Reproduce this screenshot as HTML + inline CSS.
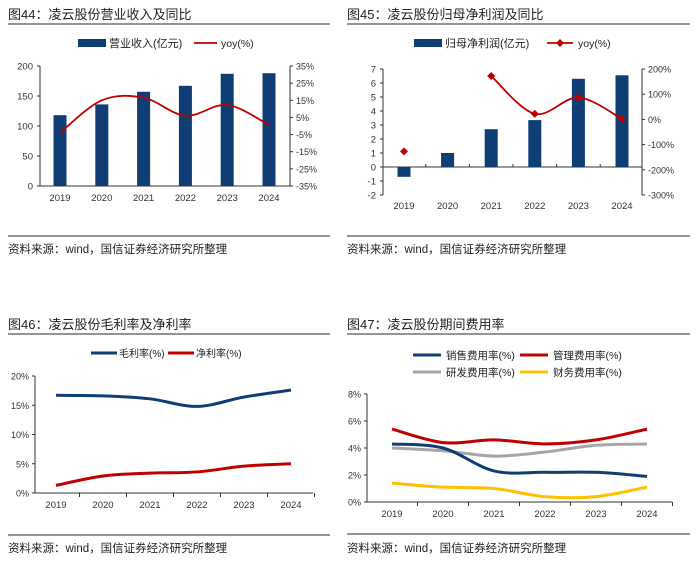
<!DOCTYPE html>
<html><head><meta charset="utf-8">
<style>
body{margin:0;background:#fff;width:700px;height:556px;overflow:hidden;font-family:"Liberation Sans","Noto Sans CJK SC",sans-serif;}
svg text{font-family:"Liberation Sans","Noto Sans CJK SC",sans-serif;}
</style></head>
<body>
<svg id="s" width="700" height="556" xmlns="http://www.w3.org/2000/svg"></svg>
<script>
const years=["2019","2020","2021","2022","2023","2024"];
const revenue=[118,136,157,167,187,188];
const revenueYoy=[-4,15,16.5,6,12.3,0.6];
const profit=[-0.7,1.0,2.7,3.35,6.3,6.55];
const profitYoy=[-127,null,172,22,87,2];
const grossMargin=[16.7,16.6,16.1,14.8,16.4,17.6];
const netMargin=[1.3,2.9,3.4,3.6,4.6,5.0];
const salesRate=[4.3,4.0,2.3,2.2,2.2,1.9];
const mgmtRate=[5.4,4.4,4.6,4.3,4.6,5.4];
const rdRate=[4.0,3.8,3.4,3.7,4.2,4.3];
const finRate=[1.4,1.1,1.0,0.4,0.4,1.1];
const ticks1L=[0,50,100,150,200];
const ticks1R=[-35,-25,-15,-5,5,15,25,35];
const ticks2L=[-2,-1,0,1,2,3,4,5,6,7];
const ticks2R=[-300,-200,-100,0,100,200];
const ticks3=[0,5,10,15,20];
const ticks4=[0,2,4,6,8];

const S=document.getElementById('s');
const NS="http://www.w3.org/2000/svg";
function el(tag,attrs,parent){const e=document.createElementNS(NS,tag);for(const k in attrs)e.setAttribute(k,attrs[k]);(parent||S).appendChild(e);return e;}
function txt(x,y,t,size,anchor,fill,parent){const e=el('text',{x:x,y:y,'font-size':size,'text-anchor':anchor||'start',fill:fill||'#222'},parent);e.textContent=t;return e;}
function smooth(pts){let d="M"+pts[0][0]+","+pts[0][1];for(let i=0;i<pts.length-1;i++){const p0=pts[i-1]||pts[i],p1=pts[i],p2=pts[i+1],p3=pts[i+2]||p2;const c1=[p1[0]+(p2[0]-p0[0])/6,p1[1]+(p2[1]-p0[1])/6],c2=[p2[0]-(p3[0]-p1[0])/6,p2[1]-(p3[1]-p1[1])/6];d+=" C"+c1+" "+c2+" "+p2;}return d;}
function lin(d0,d1,r0,r1){return v=>r0+(v-d0)/(d1-d0)*(r1-r0);}
function frame(g,x0,x1,yTitle,title,yRule,yRule2,ySrc){
  const t=txt(x0,yTitle,title,13,'start','#222',g);
  el('line',{x1:x0,x2:x1,y1:yRule,y2:yRule,stroke:'#555','stroke-width':1.2},g);
  el('line',{x1:x0,x2:x1,y1:yRule2,y2:yRule2,stroke:'#555','stroke-width':1.2},g);
  const s=txt(x0,ySrc,'资料来源：wind，国信证券经济研究所整理',11.5,'start','#222',g);
}
function xCats(g,xs,y,ticks,yt){years.forEach((yr,i)=>{const t=txt(xs(i),y,yr,9.5,'middle','#333',g);});}

// ---------- Panel 1 ----------
const g1=el('g',{});
frame(g1,8,330,19,'图44：凌云股份营业收入及同比',24,236,253);
{
 const xs=i=>60+i*41.8, yL=lin(0,200,186,66), yR=lin(-35,35,186,66);
 el('line',{x1:40,x2:40,y1:66,y2:186,stroke:'#333'},g1);
 el('line',{x1:40,x2:290,y1:186,y2:186,stroke:'#333'},g1);
 el('line',{x1:290,x2:290,y1:66,y2:186,stroke:'#333'},g1);
 ticks1L.forEach(v=>{el('line',{x1:37,x2:40,y1:yL(v),y2:yL(v),stroke:'#333'},g1);txt(33,yL(v)+3.5,String(v),9.5,'end','#333',g1);});
 ticks1R.forEach(v=>{el('line',{x1:290,x2:293,y1:yR(v),y2:yR(v),stroke:'#333'},g1);txt(296,yR(v)+3.5,v+'%',9,'start','#333',g1);});
 revenue.forEach((v,i)=>{const r=el('rect',{x:xs(i)-6.5,y:yL(v),width:13,height:yL(0)-yL(v),fill:'#0e3e74'},g1);});
 const p=el('path',{d:smooth(revenueYoy.map((v,i)=>[xs(i),yR(v)])),fill:'none',stroke:'#c00000','stroke-width':1.8},g1);
 xCats(g1,xs,201);
 el('rect',{x:78,y:39,width:28,height:8,fill:'#0e3e74'},g1);txt(109,47,'营业收入(亿元)',11,'start','#222',g1);
 el('line',{x1:194,x2:217,y1:43,y2:43,stroke:'#c00000','stroke-width':1.8},g1);txt(221,47,'yoy(%)',10.5,'start','#222',g1);
}

// ---------- Panel 2 ----------
const g2=el('g',{});
frame(g2,347,690,19,'图45：凌云股份归母净利润及同比',24,236,253);
{
 const xs=i=>404+i*43.6, yL=lin(-2,7,195,69), yR=lin(-300,200,195,69);
 el('line',{x1:383,x2:383,y1:69,y2:195,stroke:'#333'},g2);
 el('line',{x1:383,x2:642,y1:yL(0),y2:yL(0),stroke:'#333'},g2);
 el('line',{x1:642,x2:642,y1:69,y2:195,stroke:'#333'},g2);
 ticks2L.forEach(v=>{el('line',{x1:380,x2:383,y1:yL(v),y2:yL(v),stroke:'#333'},g2);txt(376,yL(v)+3.5,String(v),9.5,'end','#333',g2);});
 ticks2R.forEach(v=>{el('line',{x1:642,x2:645,y1:yR(v),y2:yR(v),stroke:'#333'},g2);txt(648,yR(v)+3.5,v+'%',9,'start','#333',g2);});
 years.forEach((y,i)=>{if(i<5){const xm=xs(i)+21.8;el('line',{x1:xm,x2:xm,y1:yL(0),y2:yL(0)-3,stroke:'#333'},g2);}});
 profit.forEach((v,i)=>{const r=el('rect',{x:xs(i)-6.5,y:Math.min(yL(v),yL(0)),width:13,height:Math.abs(yL(0)-yL(v)),fill:'#0e3e74'},g2);});
 const seg=[];profitYoy.forEach((v,i)=>{if(v!==null&&i>=2)seg.push([xs(i),yR(v)]);});
 const p=el('path',{d:smooth(seg),fill:'none',stroke:'#c00000','stroke-width':1.8},g2);
 profitYoy.forEach((v,i)=>{if(v===null)return;const x=xs(i),y=yR(v);const m=el('path',{d:`M${x},${y-4}L${x+4},${y}L${x},${y+4}L${x-4},${y}Z`,fill:'#c00000'},g2);});
 xCats(g2,xs,209);
 el('rect',{x:414,y:39,width:28,height:8,fill:'#0e3e74'},g2);txt(445,47,'归母净利润(亿元)',11,'start','#222',g2);
 el('line',{x1:547,x2:573,y1:43,y2:43,stroke:'#c00000','stroke-width':1.8},g2);el('path',{d:'M560,39L564,43L560,47L556,43Z',fill:'#c00000'},g2);txt(578,47,'yoy(%)',10.5,'start','#222',g2);
}

// ---------- Panel 3 ----------
const g3=el('g',{});
frame(g3,8,330,329,'图46：凌云股份毛利率及净利率',334,535,552);
{
 const xs=i=>56+i*47, y=lin(0,20,493,376);
 el('line',{x1:35,x2:35,y1:376,y2:493,stroke:'#333'},g3);
 el('line',{x1:35,x2:313,y1:493,y2:493,stroke:'#333'},g3);
 ticks3.forEach(v=>{el('line',{x1:32,x2:35,y1:y(v),y2:y(v),stroke:'#333'},g3);txt(29,y(v)+3.5,v+'%',9,'end','#333',g3);});
 for(let i=0;i<6;i++){const xm=xs(i)+23.5;el('line',{x1:xm,x2:xm,y1:493,y2:497,stroke:'#333'},g3);}
 [[grossMargin,'#0e3e74','gross-margin-line'],[netMargin,'#c00000','net-margin-line']].forEach(([arr,c,n])=>{const p=el('path',{d:smooth(arr.map((v,i)=>[xs(i),y(v)])),fill:'none',stroke:c,'stroke-width':3},g3);});
 xCats(g3,xs,508);
 el('line',{x1:91,x2:117,y1:353,y2:353,stroke:'#0e3e74','stroke-width':3},g3);txt(119,357,'毛利率(%)',10,'start','#222',g3);
 el('line',{x1:168,x2:194,y1:353,y2:353,stroke:'#c00000','stroke-width':3},g3);txt(196,357,'净利率(%)',10,'start','#222',g3);
}

// ---------- Panel 4 ----------
const g4=el('g',{});
frame(g4,347,690,329,'图47：凌云股份期间费用率',334,534,552);
{
 const xs=i=>392+i*51, y=lin(0,8,502,394);
 el('line',{x1:367,x2:367,y1:394,y2:502,stroke:'#333'},g4);
 el('line',{x1:367,x2:672,y1:502,y2:502,stroke:'#333'},g4);
 ticks4.forEach(v=>{el('line',{x1:364,x2:367,y1:y(v),y2:y(v),stroke:'#333'},g4);txt(361,y(v)+3.5,v+'%',9,'end','#333',g4);});
 for(let i=0;i<6;i++){const xm=xs(i)+25.5;el('line',{x1:xm,x2:xm,y1:502,y2:506,stroke:'#333'},g4);}
 [[rdRate,'#a6a6a6','rd-rate-line'],[finRate,'#ffc000','finance-rate-line'],[salesRate,'#0e3e74','sales-rate-line'],[mgmtRate,'#c00000','mgmt-rate-line']].forEach(([arr,c,n])=>{const p=el('path',{d:smooth(arr.map((v,i)=>[xs(i),y(v)])),fill:'none',stroke:c,'stroke-width':3},g4);});
 xCats(g4,xs,517);
 const L=[[413,355,'#0e3e74','销售费用率(%)'],[520,355,'#c00000','管理费用率(%)'],[413,372,'#a6a6a6','研发费用率(%)'],[520,372,'#ffc000','财务费用率(%)']];
 L.forEach(([x,yy,c,t])=>{el('line',{x1:x,x2:x+28,y1:yy,y2:yy,stroke:c,'stroke-width':3},g4);txt(x+33,yy+4,t,10.5,'start','#222',g4);});
}
</script>
</body></html>
